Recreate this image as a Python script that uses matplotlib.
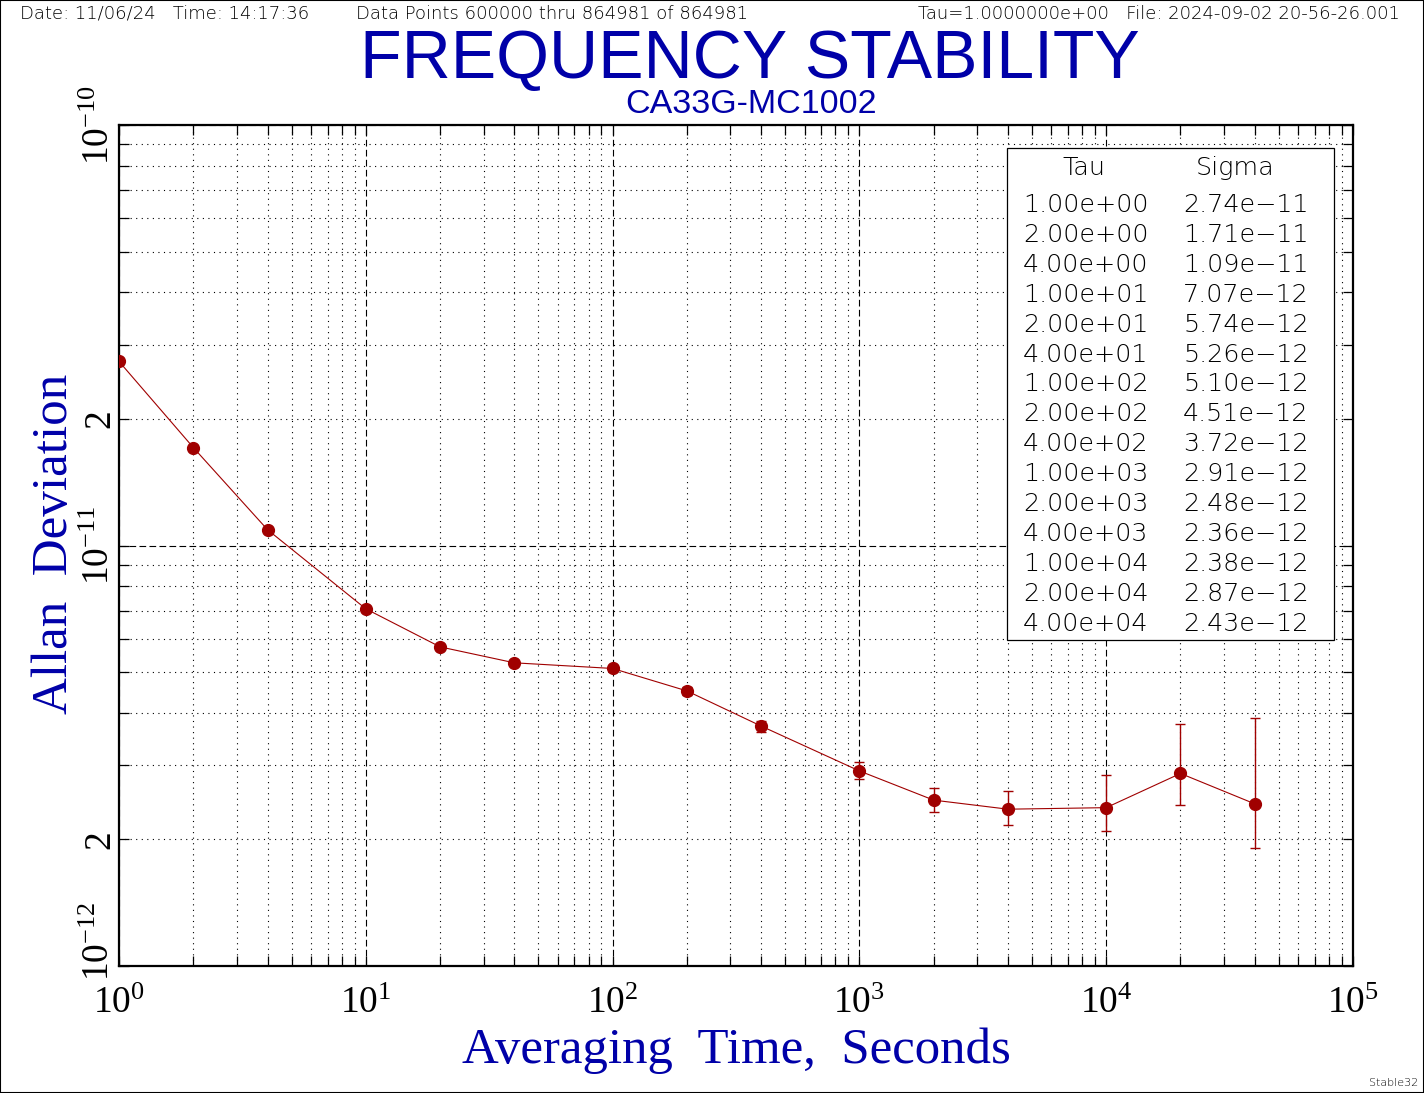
import matplotlib
matplotlib.use('Agg')
import matplotlib.pyplot as plt
import matplotlib.ticker as mticker
import matplotlib.transforms as mtransforms
from matplotlib.patches import Rectangle
import numpy as np

tau = [1, 2, 4, 10, 20, 40, 100, 200, 400, 1000, 2000, 4000, 10000, 20000, 40000]
sigma = [2.74e-11, 1.71e-11, 1.09e-11, 7.07e-12, 5.74e-12, 5.26e-12, 5.10e-12,
         4.51e-12, 3.72e-12, 2.91e-12, 2.48e-12, 2.36e-12, 2.38e-12, 2.87e-12, 2.43e-12]
# limites de las barras de error (estimados del dibujo)
sigma_lo = [2.72e-11, 1.70e-11, 1.083e-11, 7.02e-12, 5.69e-12, 5.20e-12, 5.02e-12,
            4.41e-12, 3.61e-12, 2.79e-12, 2.33e-12, 2.17e-12, 2.10e-12, 2.42e-12, 1.91e-12]
sigma_hi = [2.76e-11, 1.72e-11, 1.097e-11, 7.12e-12, 5.79e-12, 5.32e-12, 5.18e-12,
            4.61e-12, 3.835e-12, 3.05e-12, 2.65e-12, 2.61e-12, 2.84e-12, 3.77e-12, 3.89e-12]

x_decades = [1e0, 1e1, 1e2, 1e3, 1e4, 1e5]
y_decades = [1e-12, 1e-11, 1e-10]

azul = '#0000A8'
rojo = '#A00000'

plt.rcParams['mathtext.fontset'] = 'custom'
plt.rcParams['mathtext.rm'] = 'Liberation Serif'

W, H = 1424, 1093
fig = plt.figure(figsize=(W / 100, H / 100), dpi=100)
fig.patch.set_facecolor('white')

ax = fig.add_axes([119 / W, 1 - 966 / H, 1234 / W, 841 / H])
ax.set_xscale('log')
ax.set_yscale('log')
ax.set_xlim(1e0, 1e5)
ax.set_ylim(1e-12, 1e-10)

# Grafica con barras de error
lower = np.array(sigma) - np.array(sigma_lo)
upper = np.array(sigma_hi) - np.array(sigma)
ax.errorbar(tau, sigma, yerr=[lower, upper], fmt='-o', color=rojo, ms=8.5, lw=0.8,
            elinewidth=1, capsize=3.6, capthick=1, zorder=5)

# Ejes y grilla
menores_x = [m * 10.0 ** e for e in range(0, 5) for m in range(2, 10)]
menores_y = [m * 10.0 ** e for e in range(-12, -10) for m in range(2, 10)]
ax.xaxis.set_major_locator(mticker.FixedLocator(x_decades))
ax.yaxis.set_major_locator(mticker.FixedLocator(y_decades))
ax.xaxis.set_minor_locator(mticker.FixedLocator(menores_x))
ax.yaxis.set_minor_locator(mticker.FixedLocator(menores_y))
ax.xaxis.set_major_formatter(mticker.FuncFormatter(
    lambda v, p: r'$\mathregular{10^{%d}}$' % round(np.log10(v))))
ax.yaxis.set_major_formatter(mticker.FuncFormatter(
    lambda v, p: r'$\mathregular{10^{%d}}$' % round(np.log10(v))))
ax.xaxis.set_minor_formatter(mticker.NullFormatter())


def etiqueta_menor(v, p):
    m = v / 10 ** np.floor(np.log10(v) + 1e-9)
    return '2' if abs(m - 2) < 0.01 else ''


ax.yaxis.set_minor_formatter(mticker.FuncFormatter(etiqueta_menor))

ax.grid(True, which='major', color='black', ls=(0, (6, 3)), lw=0.8)
ax.grid(True, which='minor', color='black', ls=(0, (1, 4)), lw=0.8)
ax.set_axisbelow(True)

ax.tick_params(which='both', direction='in', length=7.2, width=0.9, top=True, right=True,
               labelsize=27, labelfontfamily='Liberation Serif', labelcolor='black')
ax.tick_params(axis='x', which='both', pad=15)
ax.tick_params(axis='y', which='both', pad=1.5, labelrotation=90)
for sp in ax.spines.values():
    sp.set_linewidth(1.6)

for lab in ax.get_yticklabels(which='both'):
    lab.set_va('center')
    lab.set_ha('right')
# 10^-12 un poco mas arriba
t0 = ax.yaxis.get_major_ticks()[0]
t0.label1.set_transform(t0.label1.get_transform() +
                        mtransforms.ScaledTranslation(0, 0.25, fig.dpi_scale_trans))

# Tabla Tau / Sigma
x0, x1 = (1007 - 119) / 1234, (1334 - 119) / 1234
y0, y1 = (966 - 640) / 841, (966 - 148) / 841
ax.add_patch(Rectangle((x0, y0), x1 - x0, y1 - y0, transform=ax.transAxes,
                       facecolor='white', edgecolor='black', lw=0.9, zorder=6))
fuente_tabla = dict(fontsize=18.3, family='DejaVu Sans', fontweight='light',
                    transform=ax.transAxes, zorder=7, va='baseline')
ax.text((1084 - 119) / 1234, (966 - 175) / 841, 'Tau', ha='center', **fuente_tabla)
ax.text((1235 - 119) / 1234, (966 - 175) / 841, 'Sigma', ha='center', **fuente_tabla)
for i in range(len(tau)):
    yb = (966 - (212 + 29.9 * i)) / 841
    ax.text((1023 - 119) / 1234, yb, '%.2e' % tau[i], ha='left', **fuente_tabla)
    ax.text((1183 - 119) / 1234, yb, ('%.2e' % sigma[i]).replace('-', '\u2212'),
            ha='left', **fuente_tabla)

# Titulos
fig.text(750 / W, 1 - 78 / H, 'FREQUENCY STABILITY', ha='center', va='baseline',
         fontsize=49, family='Liberation Sans', color=azul)
fig.text(751 / W, 1 - 113 / H, 'CA33G-MC1002', ha='center', va='baseline',
         fontsize=24.5, family='Liberation Sans', color=azul)

fig.text(736 / W, 1 - 1063 / H, 'Averaging  Time,  Seconds', ha='center', va='baseline',
         fontsize=36.6, family='Liberation Serif', color=azul)
fig.text(55 / W, 1 - 544 / H, 'Allan  Deviation', ha='center', va='center', rotation=90,
         fontsize=36.8, family='Liberation Serif', color=azul)

# Encabezado
enc = dict(fontsize=13, family='DejaVu Sans', fontweight='light', va='baseline', color='black')
fig.text(20 / W, 1 - 19 / H, 'Date: 11/06/24   Time: 14:17:36', ha='left', **enc)
fig.text(356 / W, 1 - 19 / H, 'Data Points 600000 thru 864981 of 864981', ha='left', **enc)
fig.text(1400 / W, 1 - 19 / H, 'Tau=1.0000000e+00   File: 2024-09-02 20-56-26.001',
         ha='right', **enc)
fig.text(1418 / W, 1 - 1086 / H, 'Stable32', ha='right', va='baseline', fontsize=8,
         family='DejaVu Sans', fontweight='light')

# Marco de la figura
fig.add_artist(Rectangle((0, 0), 1, 1, transform=fig.transFigure, fill=False,
                         lw=1.5, ec='black'))

fig.savefig('out.png', dpi=100, facecolor='white')
